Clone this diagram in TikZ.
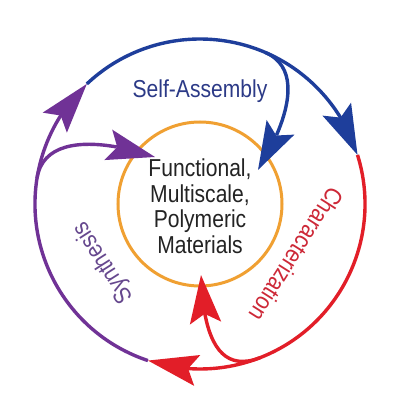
\documentclass[tikz,border=0pt]{standalone}
\usepackage{fontspec}
\setmainfont[FakeStretch=0.86]{Liberation Sans}
\usetikzlibrary{arrows.meta,bending}
\definecolor{cblue}{RGB}{30,62,155}
\definecolor{cbluetext}{RGB}{44,58,135}
\definecolor{cred}{RGB}{226,30,40}
\definecolor{credtext}{RGB}{205,40,55}
\definecolor{cpurple}{RGB}{112,50,150}
\definecolor{cpurpletext}{RGB}{102,72,142}
\definecolor{corange}{RGB}{240,160,50}
\definecolor{ctext}{RGB}{35,35,35}
\tikzset{
  outerarr/.style={line width=3.4pt,-{Stealth[length=50pt,width=31pt,inset=9pt]}},
  innerarr/.style={line width=3.4pt,-{Stealth[length=48pt,width=31pt,inset=9pt]}},
  lbl/.style={font=\fontsize{24.5}{25.5}\selectfont,inner sep=0pt}
}
\begin{document}
\begin{tikzpicture}[x=1pt,y=1pt]
\useasboundingbox (0,0) rectangle (400,400);
\fill[white] (0,0) rectangle (400,400);
\begin{scope}[shift={(200,196)}]
  % inner circle
  \node[draw=corange,line width=3pt,circle,minimum size=164pt,inner sep=0pt] (core) at (0,0) {};
  % outer cycle points
  \coordinate (pb) at (133.3:165);
  \coordinate (pr) at (17.3:165);
  \coordinate (pp) at (-108.4:165);
  % branch start points and tips
  \coordinate (bb) at (66.7:165);
  \coordinate (bp) at (171:165);
  \coordinate (br) at (60,-153.7);
  \coordinate (tb) at (58,34);
  \coordinate (tp) at (-45,47);
  \coordinate (tr) at (1,-71);
  % outer arcs
  \draw[outerarr,cblue] (pb) arc[start angle=133.3,end angle=17.3,radius=165];
  \draw[outerarr,cred] (pr) arc[start angle=17.3,end angle=-108.4,radius=165];
  \draw[outerarr,cpurple] (pp) arc[start angle=-108.4,end angle=-226.7,radius=165];
  % inner branches
  \draw[innerarr,cblue] (bb) to[out=-23.3,in=58] (tb);
  \draw[innerarr,cpurple] (bp) to[out=81,in=161] (tp);
  \draw[innerarr,cred] (br) .. controls (18.1,-170) and (3.1,-131) .. (tr);
  % labels
  \node[lbl,text=cbluetext,anchor=base] (sa) at (0,106) {Self-Assembly};
  \node[lbl,text=credtext,rotate=-122.4] (ch) at (96.5,-50.5) {Characterization};
  \node[lbl,text=cpurpletext,rotate=122.6] (sy) at (-96,-58.5) {Synthesis};
  \node[lbl,text=ctext,anchor=base] (c1) at (0,27) {Functional,};
  \node[lbl,text=ctext,anchor=base] (c2) at (0,1.5) {Multiscale,};
  \node[lbl,text=ctext,anchor=base] (c3) at (0,-24) {Polymeric};
  \node[lbl,text=ctext,anchor=base] (c4) at (0,-49.5) {Materials};
\end{scope}
\end{tikzpicture}
\end{document}
